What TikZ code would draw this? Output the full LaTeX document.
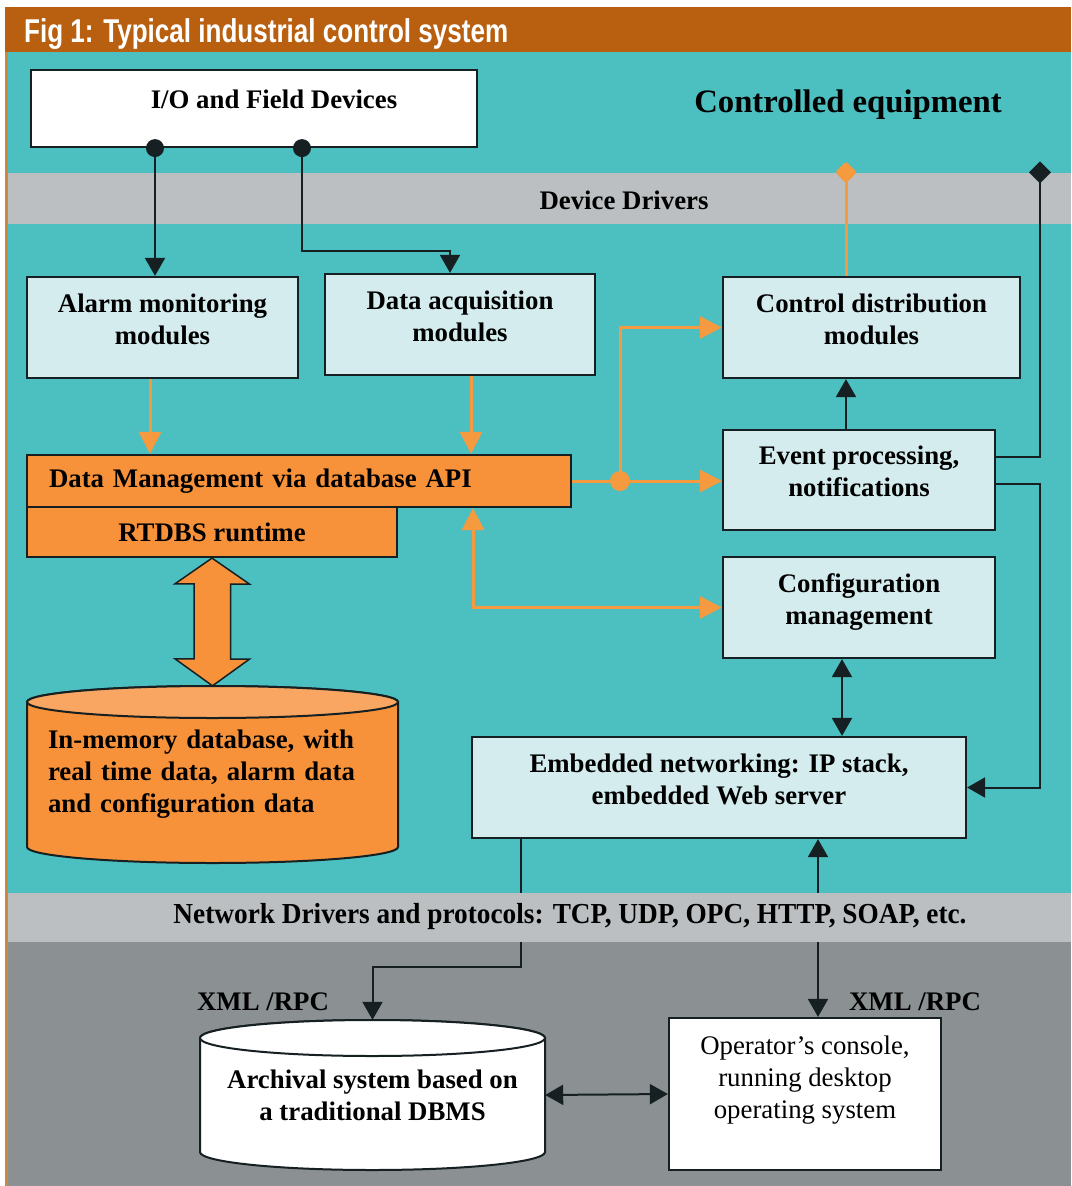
\documentclass[tikz,border=0pt]{standalone}
\usepackage{fontspec}
\usepackage{graphicx}
\setmainfont{Liberation Serif}
\newfontfamily\headfont{Liberation Sans}
\usetikzlibrary{
    arrows.meta,
    calc,
    positioning,
}

\definecolor{headBrown}{RGB}{185,96,16}
\definecolor{rimBrown}{RGB}{205,135,60}
\definecolor{tealBack}{RGB}{76,191,192}
\definecolor{driverGray}{RGB}{187,191,193}
\definecolor{hostGray}{RGB}{139,144,147}
\definecolor{moduleFill}{RGB}{212,236,238}
\definecolor{storeOrange}{RGB}{247,146,58}
\definecolor{lidOrange}{RGB}{249,166,98}
\definecolor{flowOrange}{RGB}{246,154,64}
\definecolor{edgeBlack}{RGB}{22,32,34}

\newcommand{\labelfont}{\fontsize{26.8}{32}\selectfont\bfseries}
\newcommand{\fitwidth}[2]{\resizebox{#1}{\height}{#2}}

% drum: centre x, centre y, half width, half height, rim radius, body, lid
\newcommand{\drum}[7]{%
    \filldraw[fill=#6, draw=edgeBlack, line width=2pt]
        ({#1-#3},{#2-#4+#5}) -- ({#1-#3},{#2+#4-#5})
        arc[start angle=180, end angle=360, x radius=#3pt, y radius=#5pt]
        -- ({#1+#3},{#2-#4+#5})
        arc[start angle=0, end angle=180, x radius=#3pt, y radius=#5pt] -- cycle;
    \filldraw[fill=#7, draw=edgeBlack, line width=2pt]
        (#1,{#2-#4+#5}) ellipse[x radius=#3pt, y radius=#5pt];
}

\begin{document}
\begin{tikzpicture}[x=1pt,y=-1pt,>={Triangle[length=18pt,width=20pt]}]

    \tikzstyle{commonNode}=[font=\labelfont, align=center, line width=2.2pt, draw=edgeBlack, inner sep=0pt]
    \tikzstyle{module}=[commonNode, rectangle, fill=moduleFill, minimum height=101, text depth=17pt]
    \tikzstyle{device}=[module, fill=white]
    \tikzstyle{runtime}=[commonNode, rectangle, fill=storeOrange, minimum height=52]
    \tikzstyle{drumText}=[font=\labelfont, inner sep=0pt]
    \tikzstyle{barText}=[font=\labelfont, inner sep=0pt]
    \tikzstyle{band}=[rectangle, inner sep=0pt, minimum width=1063, fill=driverGray]
    \tikzstyle{link}=[line width=2pt, draw=edgeBlack]
    \tikzstyle{flow}=[line width=3pt, draw=flowOrange, >={Triangle[length=22pt,width=22pt]}]

    \useasboundingbox (0,0) rectangle (1071,1186);

    % Background
    \fill[white] (0,0) rectangle (1071,1186);
    \fill[headBrown] (5,7) rectangle (1071,52);
    \fill[rimBrown] (5,52) rectangle (8,1186);
    \fill[tealBack] (8,52) rectangle (1071,893);
    \fill[hostGray] (8,942) rectangle (1071,1186);

    % Device drivers band
    \node at (539.5,198) [band, minimum height=51] (devbar) {};

    % Titles
    \node at (24,34) [anchor=west, inner sep=0pt, text=white] (title)
        {\fitwidth{484pt}{\headfont\fontsize{33}{36}\selectfont\bfseries Fig 1: Typical industrial control system}};
    \node at (848,105) [font=\fontsize{32.7}{38}\selectfont\bfseries, inner sep=0pt] (equip) {Controlled equipment};
    \node at (624,200) [barText] (devlabel) {Device Drivers};

    % Modules
    \node at (254,108.5) [device, minimum width=446, minimum height=77,
        label={[barText, name=iolabel, xshift=20pt, yshift=9pt]center:I/O and Field Devices}] (io) {};
    \node at (162.5,327.5) [module, minimum width=271] (alarm) {Alarm monitoring\\modules};
    \node at (460,324.5) [module, minimum width=270] (dacq) {Data acquisition\\modules};
    \node at (871.5,327.5) [module, minimum width=297] (ctrl) {Control distribution\\modules};
    \node at (859,480) [module, minimum width=272, minimum height=100] (event) {Event processing,\\notifications};
    \node at (859,607.5) [module, minimum width=272] (config) {Configuration\\management};
    \node at (719,787.5) [module, minimum width=494] (embed) {Embedded networking: IP stack,\\embedded Web server};

    % Runtime
    \node at (299,481) [runtime, minimum width=544, text width=500, align=left] (dm) {Data Management via database API};
    \node at (212,532) [runtime, minimum width=370, minimum height=50] (rtdbs) {RTDBS runtime};

    % Stores
    \drum{212.5}{774.5}{185.5}{88.5}{16}{storeOrange}{lidOrange}
    \node at (212.5,774.5) [drumText, minimum width=371, minimum height=177, text width=329, align=left] (memdb)
        {In-memory database, with\\real time data, alarm data\\and configuration data};
    \drum{372.5}{1095}{172.5}{75}{18}{white}{white}
    \node at (372.5,1095) [drumText, minimum width=345, minimum height=150, align=center] (arch)
        {Archival system based on\\a traditional DBMS};
    \node at (805,1094) [device, minimum width=272, minimum height=152, font=\fontsize{26.8}{32}\selectfont, text depth=34pt] (oper)
        {Operator's console,\\running desktop\\operating system};

    % Runtime to store
    \filldraw[fill=storeOrange, draw=edgeBlack, line width=1.5pt]
        (rtdbs.south) -- ++(37.5,26) -- ++(-19,0) -- ++(0,75) -- ++(19,0) -- (memdb.north)
        -- ++(-37.5,-27) -- ++(19,0) -- ++(0,-75) -- ++(-19,0) -- cycle;

    % Taps
    \coordinate (ioA) at (155,0 |- io.south);
    \coordinate (ioB) at (302,0 |- io.south);
    \coordinate (split) at (620,0 |- dm.east);
    \coordinate (ctrlTap) at (846,0 |- devbar.north);
    \coordinate (eventTap) at (1040,0 |- devbar.north);

    % Field devices
    \draw[link,->] (ioA) -- (ioA |- alarm.north);
    \draw[link,->] (ioB) -- ++(0,103) -| (450,0 |- dacq.north);
    \fill[edgeBlack] (ioA) circle (9pt);
    \fill[edgeBlack] (ioB) circle (9pt);

    % Data flows
    \draw[flow,->] (150,0 |- alarm.south) -- (150,0 |- dm.north);
    \draw[flow,->] (471,0 |- dacq.south) -- (471,0 |- dm.north);
    \draw[flow,->] (dm.east) -- (dm.east -| event.west);
    \draw[flow,->] (split) |- (ctrl.west);
    \draw[flow,<->] (473,0 |- dm.south) |- (config.west);
    \draw[flow] (846,0 |- ctrl.north) -- (ctrlTap);
    \fill[flowOrange] (split) circle (10pt);
    \fill[flowOrange, rounded corners=3pt] (ctrlTap) +(0,-11) -- +(11,0) -- +(0,11) -- +(-11,0) -- cycle;

    % Event processing
    \draw[link,->] (846,0 |- event.north) -- (846,0 |- ctrl.south);
    \draw[link] ([yshift=23pt]event.east) -| (eventTap);
    \fill[edgeBlack] (eventTap) +(0,-11) -- +(11,0) -- +(0,11) -- +(-11,0) -- cycle;
    \draw[link,->] ([yshift=-4pt]event.east) -| (1040,0 |- embed.east) -- (embed.east);
    \draw[link,<->] (842,0 |- config.south) -- (842,0 |- embed.north);

    % Network side
    \draw[link,->] (521,0 |- embed.south) -- ++(0,128) -| (arch.north);
    \draw[link,<->] (818,0 |- oper.north) -- (818,0 |- embed.south);
    \draw[link,<->] (arch.east) -- (oper.west);
    \node at (263,1002) [barText] (xmlArch) {XML /RPC};
    \node at (915,1002) [barText] (xmlOper) {XML /RPC};

    % Network band, over the links
    \node at (539.5,917.5) [band, minimum height=49] (netbar) {};
    \node at (570,917) [barText] (netlabel)
        {\fitwidth{793pt}{\fontsize{29}{32}\selectfont Network Drivers and protocols: TCP, UDP, OPC, HTTP, SOAP, etc.}};

\end{tikzpicture}
\end{document}
